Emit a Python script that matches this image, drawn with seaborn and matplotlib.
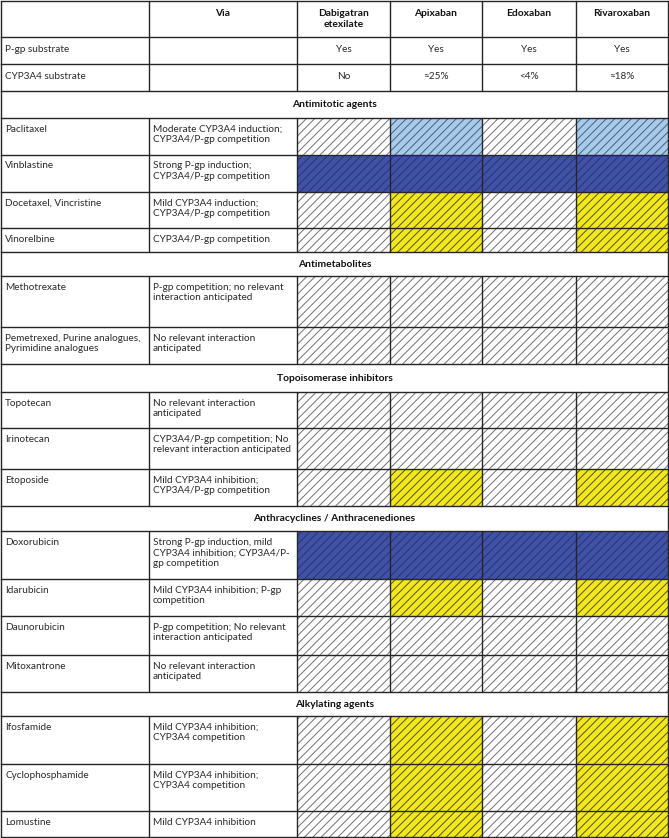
import matplotlib
matplotlib.use("Agg")
import matplotlib.pyplot as plt
import seaborn as sns

# ---------------- data ----------------
columns = ["", "Via", "Dabigatran\netexilate", "Apixaban", "Edoxaban", "Rivaroxaban"]
substrate_labels = ["P-gp substrate", "CYP3A4 substrate"]
pgp_substrate = ["Yes", "Yes", "Yes", "Yes"]
cyp_substrate = ["No", "≈25%", "<4%", "≈18%"]

sections = ["Antimitotic agents", "Antimetabolites", "Topoisomerase inhibitors",
            "Anthracyclines / Anthracenediones", "Alkylating agents"]

drugs = [
    ["Paclitaxel", "Vinblastine", "Docetaxel, Vincristine", "Vinorelbine"],
    ["Methotrexate", "Pemetrexed, Purine analogues,\nPyrimidine analogues"],
    ["Topotecan", "Irinotecan", "Etoposide"],
    ["Doxorubicin", "Idarubicin", "Daunorubicin", "Mitoxantrone"],
    ["Ifosfamide", "Cyclophosphamide", "Lomustine"],
]
via = [
    ["Moderate CYP3A4 induction;\nCYP3A4/P-gp competition",
     "Strong P-gp induction;\nCYP3A4/P-gp competition",
     "Mild CYP3A4 induction;\nCYP3A4/P-gp competition",
     "CYP3A4/P-gp competition"],
    ["P-gp competition; no relevant\ninteraction anticipated",
     "No relevant interaction\nanticipated"],
    ["No relevant interaction\nanticipated",
     "CYP3A4/P-gp competition; No\nrelevant interaction anticipated",
     "Mild CYP3A4 inhibition;\nCYP3A4/P-gp competition"],
    ["Strong P-gp induction, mild\nCYP3A4 inhibition; CYP3A4/P-\ngp competition",
     "Mild CYP3A4 inhibition; P-gp\ncompetition",
     "P-gp competition; No relevant\ninteraction anticipated",
     "No relevant interaction\nanticipated"],
    ["Mild CYP3A4 inhibition;\nCYP3A4 competition",
     "Mild CYP3A4 inhibition;\nCYP3A4 competition",
     "Mild CYP3A4 inhibition"],
]
# interaction level per drug row: Dabigatran, Apixaban, Edoxaban, Rivaroxaban
levels = [
    [["none", "moderate", "none", "moderate"],
     ["strong", "strong", "strong", "strong"],
     ["none", "mild", "none", "mild"],
     ["none", "mild", "none", "mild"]],
    [["none"] * 4, ["none"] * 4],
    [["none"] * 4, ["none"] * 4, ["none", "mild", "none", "mild"]],
    [["strong"] * 4, ["none", "mild", "none", "mild"], ["none"] * 4, ["none"] * 4],
    [["none", "mild", "none", "mild"]] * 3,
]

# ---------------- layout / style ----------------
col_edges = [1, 149, 297, 390, 482, 576, 668]
row_edges = [1, 37, 64, 91, 118, 155, 192, 228, 252, 276, 327, 364, 392, 428, 469,
             506, 531, 579, 616, 655, 692, 716, 764, 811, 837]
fill = {"none": "#ffffff", "moderate": "#a9cbe9", "strong": "#4152a6", "mild": "#f3e71e"}
hatch_col = {"none": "#7a7a7a", "moderate": "#47688a", "strong": "#28357a", "mild": "#5e5a1c"}
line_col = "#262626"
text_col = "#2a2a2a"

sns.set_theme(style="white")
plt.rcParams["font.family"] = ["Lato", "DejaVu Sans"]
plt.rcParams["hatch.linewidth"] = 0.75

fig = plt.figure(figsize=(6.69, 8.38), dpi=100)
ax = fig.add_axes([0, 0, 1, 1])
ax.set_xlim(0, 669)
ax.set_ylim(838, 0)
ax.axis("off")

FS = 7.2
FSB = 7.4
LS = 1.25

# header row
r0, r1 = row_edges[0], row_edges[1]
for j, name in enumerate(columns):
    if name:
        cx = (col_edges[j] + col_edges[j + 1]) / 2
        ax.text(cx, r0 + 8, name, ha="center", va="top", fontsize=FSB,
                fontweight="bold", linespacing=LS, color="#111111")

# substrate rows
for i, (lab, vals) in enumerate(zip(substrate_labels, [pgp_substrate, cyp_substrate])):
    top, bot = row_edges[1 + i], row_edges[2 + i]
    cy = (top + bot) / 2 - 1
    ax.text(col_edges[0] + 4, cy, lab, ha="left", va="center", fontsize=FS, color=text_col)
    for k, v in enumerate(vals):
        cx = (col_edges[2 + k] + col_edges[3 + k]) / 2
        ax.text(cx, cy, v, ha="center", va="center", fontsize=FS, color=text_col)

# sections and drugs
ri = 3
hlines_full = [row_edges[0], row_edges[1], row_edges[2], row_edges[3]]
vseg = [(row_edges[0], row_edges[3])]
for s, sec in enumerate(sections):
    top, bot = row_edges[ri], row_edges[ri + 1]
    ax.text((col_edges[0] + col_edges[-1]) / 2, (top + bot) / 2, sec, ha="center",
            va="center", fontsize=FSB, fontweight="bold", color="#111111")
    hlines_full.append(bot)
    ri += 1
    seg_start = row_edges[ri]
    for d, drug in enumerate(drugs[s]):
        top, bot = row_edges[ri], row_edges[ri + 1]
        ax.text(col_edges[0] + 4, top + 6.5, drug, ha="left", va="top", fontsize=FS,
                linespacing=LS, color=text_col)
        ax.text(col_edges[1] + 4, top + 6.5, via[s][d], ha="left", va="top", fontsize=FS,
                linespacing=LS, color=text_col)
        for k, lev in enumerate(levels[s][d]):
            x0, x1 = col_edges[2 + k], col_edges[3 + k]
            ax.bar((x0 + x1) / 2, bot - top, width=x1 - x0, bottom=top,
                   color=fill[lev], linewidth=0, zorder=1)
            ax.bar((x0 + x1) / 2, bot - top, width=x1 - x0, bottom=top,
                   facecolor="none", edgecolor=hatch_col[lev], linewidth=0,
                   hatch="////", zorder=2)
        hlines_full.append(bot)
        ri += 1
    vseg.append((seg_start, row_edges[ri]))

# grid lines
lw = 1.0
for y in hlines_full:
    ax.plot([col_edges[0], col_edges[-1]], [y, y], color=line_col, lw=lw, zorder=5,
            solid_capstyle="projecting")
ax.plot([col_edges[0]] * 2, [row_edges[0], row_edges[-1]], color=line_col, lw=lw, zorder=5)
ax.plot([col_edges[-1]] * 2, [row_edges[0], row_edges[-1]], color=line_col, lw=lw, zorder=5)
for (y0, y1) in vseg:
    for x in col_edges[1:-1]:
        ax.plot([x, x], [y0, y1], color=line_col, lw=lw, zorder=5)

fig.savefig("out.png", dpi=100, facecolor="white")
